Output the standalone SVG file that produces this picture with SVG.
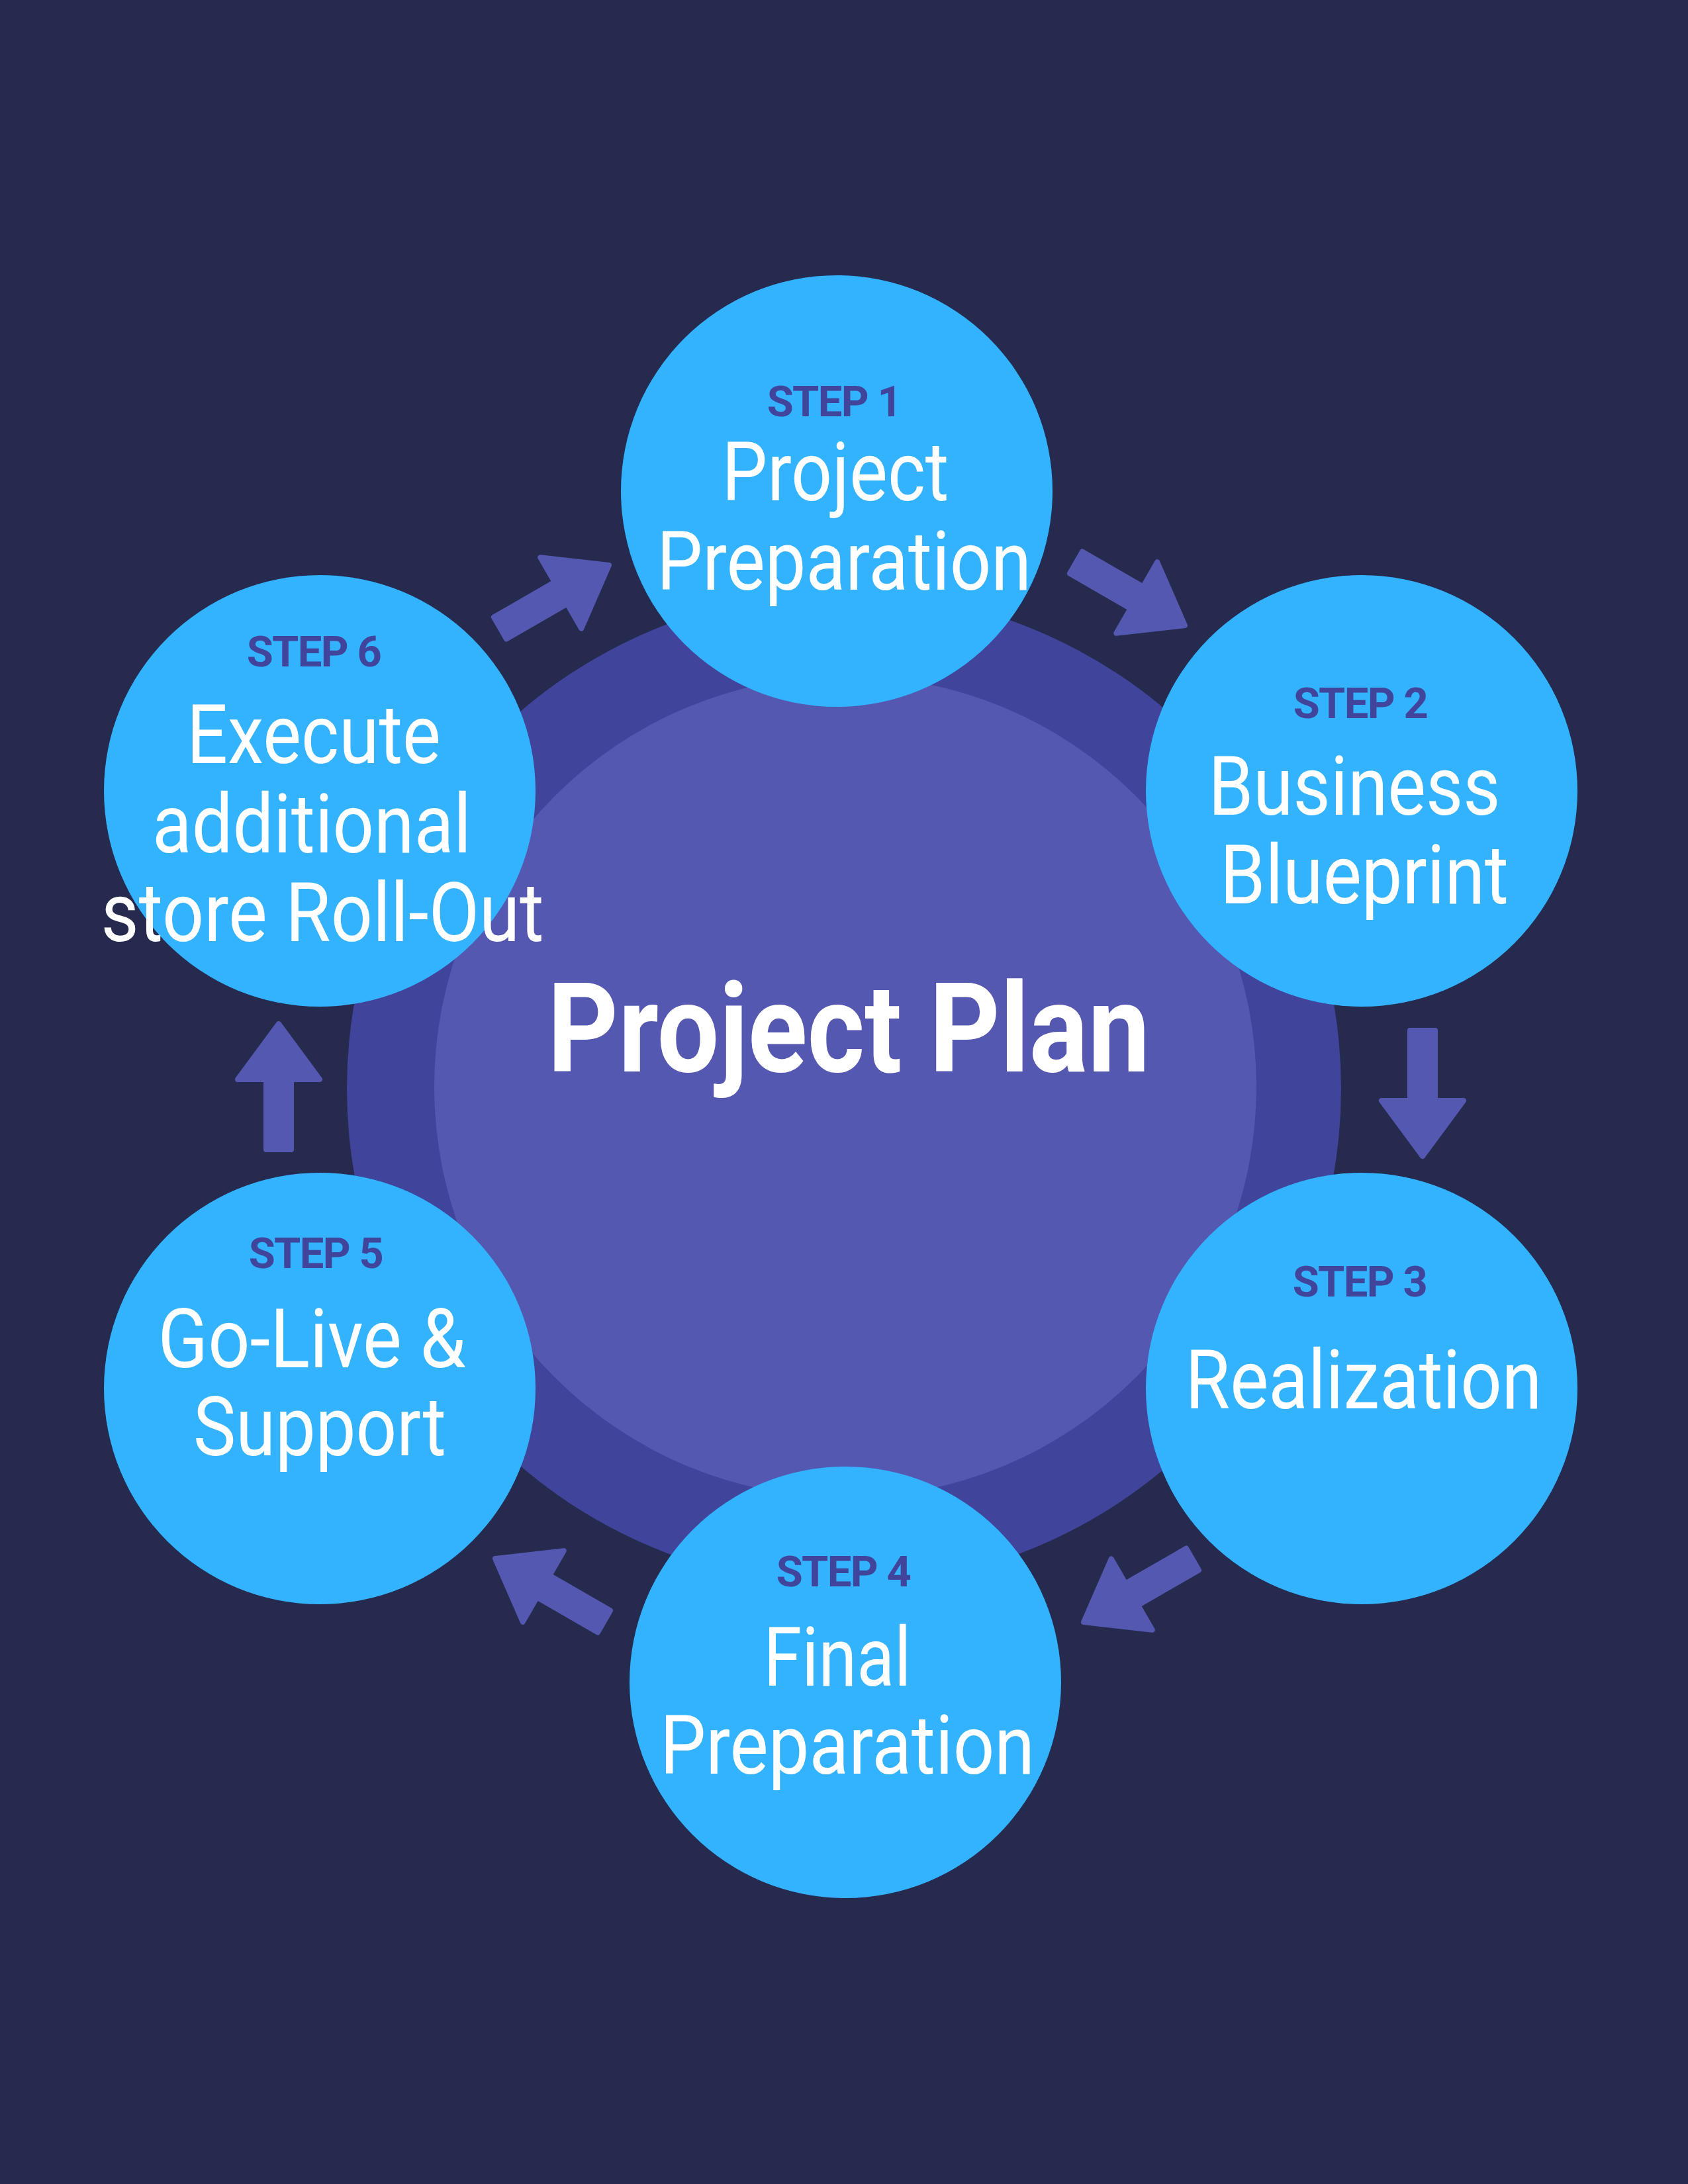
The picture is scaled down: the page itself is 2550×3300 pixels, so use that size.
<svg xmlns="http://www.w3.org/2000/svg" width="2550" height="3300" viewBox="0 0 2550 3300">
<style>
.bg{fill:#252a4e}
.ring{fill:#41449b}
.core{fill:#5558b1}
.node{fill:#33b2fd}
.step{font-family:Roboto,"Noto Sans",sans-serif;font-weight:700;font-size:65px;letter-spacing:-1.6px;fill:#41449b;text-anchor:middle}
.lbl{font-family:Roboto,"Noto Sans",sans-serif;font-weight:400;font-size:125px;fill:#ffffff;text-anchor:middle}
.title{font-family:Roboto,"Noto Sans",sans-serif;font-weight:700;font-size:188px;fill:#ffffff;text-anchor:middle}
.arrow{fill:#5558b1;stroke:#5558b1;stroke-width:8;stroke-linejoin:round}
</style>
<defs>
<path id="arr" d="M4,-19 H110 V-62 L194,0 L110,62 V19 H4 Z"/>
</defs>
<rect class="bg" x="0" y="0" width="2550" height="3300"/>
<g id="center">
<circle class="ring" cx="1275" cy="1645" r="751"/>
<circle class="core" cx="1277" cy="1642" r="621"/>
<text class="title" x="1282" y="1619" textLength="910" lengthAdjust="spacingAndGlyphs">Project Plan</text>
</g>
<g id="connectors">
<use href="#arr" class="arrow" transform="translate(752,951) rotate(-30)"/>
<use href="#arr" class="arrow" transform="translate(1622,848) rotate(30)"/>
<use href="#arr" class="arrow" transform="translate(2149,1553) rotate(90)"/>
<use href="#arr" class="arrow" transform="translate(1805,2354) rotate(150)"/>
<use href="#arr" class="arrow" transform="translate(916,2452) rotate(210)"/>
<use href="#arr" class="arrow" transform="translate(421,1741) rotate(-90)"/>
</g>
<g id="step1">
<circle class="node" cx="1264" cy="742" r="326"/>
<text class="step" x="1260" y="629">STEP 1</text>
<text class="lbl" x="1262" y="756" textLength="343" lengthAdjust="spacingAndGlyphs">Project</text>
<text class="lbl" x="1275" y="891" textLength="566" lengthAdjust="spacingAndGlyphs">Preparation</text>
</g>
<g id="step2">
<circle class="node" cx="2057" cy="1195" r="326"/>
<text class="step" x="2055" y="1085">STEP 2</text>
<text class="lbl" x="2046" y="1231" textLength="441" lengthAdjust="spacingAndGlyphs">Business</text>
<text class="lbl" x="2061" y="1365" textLength="436" lengthAdjust="spacingAndGlyphs">Blueprint</text>
</g>
<g id="step3">
<circle class="node" cx="2057" cy="2098" r="326"/>
<text class="step" x="2054" y="1959">STEP 3</text>
<text class="lbl" x="2060" y="2128" textLength="539" lengthAdjust="spacingAndGlyphs">Realization</text>
</g>
<g id="step4">
<circle class="node" cx="1277" cy="2542" r="326"/>
<text class="step" x="1274" y="2397">STEP 4</text>
<text class="lbl" x="1265" y="2547" textLength="223" lengthAdjust="spacingAndGlyphs">Final</text>
<text class="lbl" x="1280" y="2680" textLength="566" lengthAdjust="spacingAndGlyphs">Preparation</text>
</g>
<g id="step5">
<circle class="node" cx="483" cy="2098" r="326"/>
<text class="step" x="477" y="1916">STEP 5</text>
<text class="lbl" x="471" y="2066" textLength="465" lengthAdjust="spacingAndGlyphs">Go-Live &amp;</text>
<text class="lbl" x="483" y="2199" textLength="382" lengthAdjust="spacingAndGlyphs">Support</text>
</g>
<g id="step6">
<circle class="node" cx="483" cy="1195" r="326"/>
<text class="step" x="474" y="1007">STEP 6</text>
<text class="lbl" x="474" y="1153" textLength="384" lengthAdjust="spacingAndGlyphs">Execute</text>
<text class="lbl" x="471" y="1288" textLength="482" lengthAdjust="spacingAndGlyphs">additional</text>
<text class="lbl" x="487" y="1422" textLength="669" lengthAdjust="spacingAndGlyphs">store Roll-Out</text>
</g>
</svg>
